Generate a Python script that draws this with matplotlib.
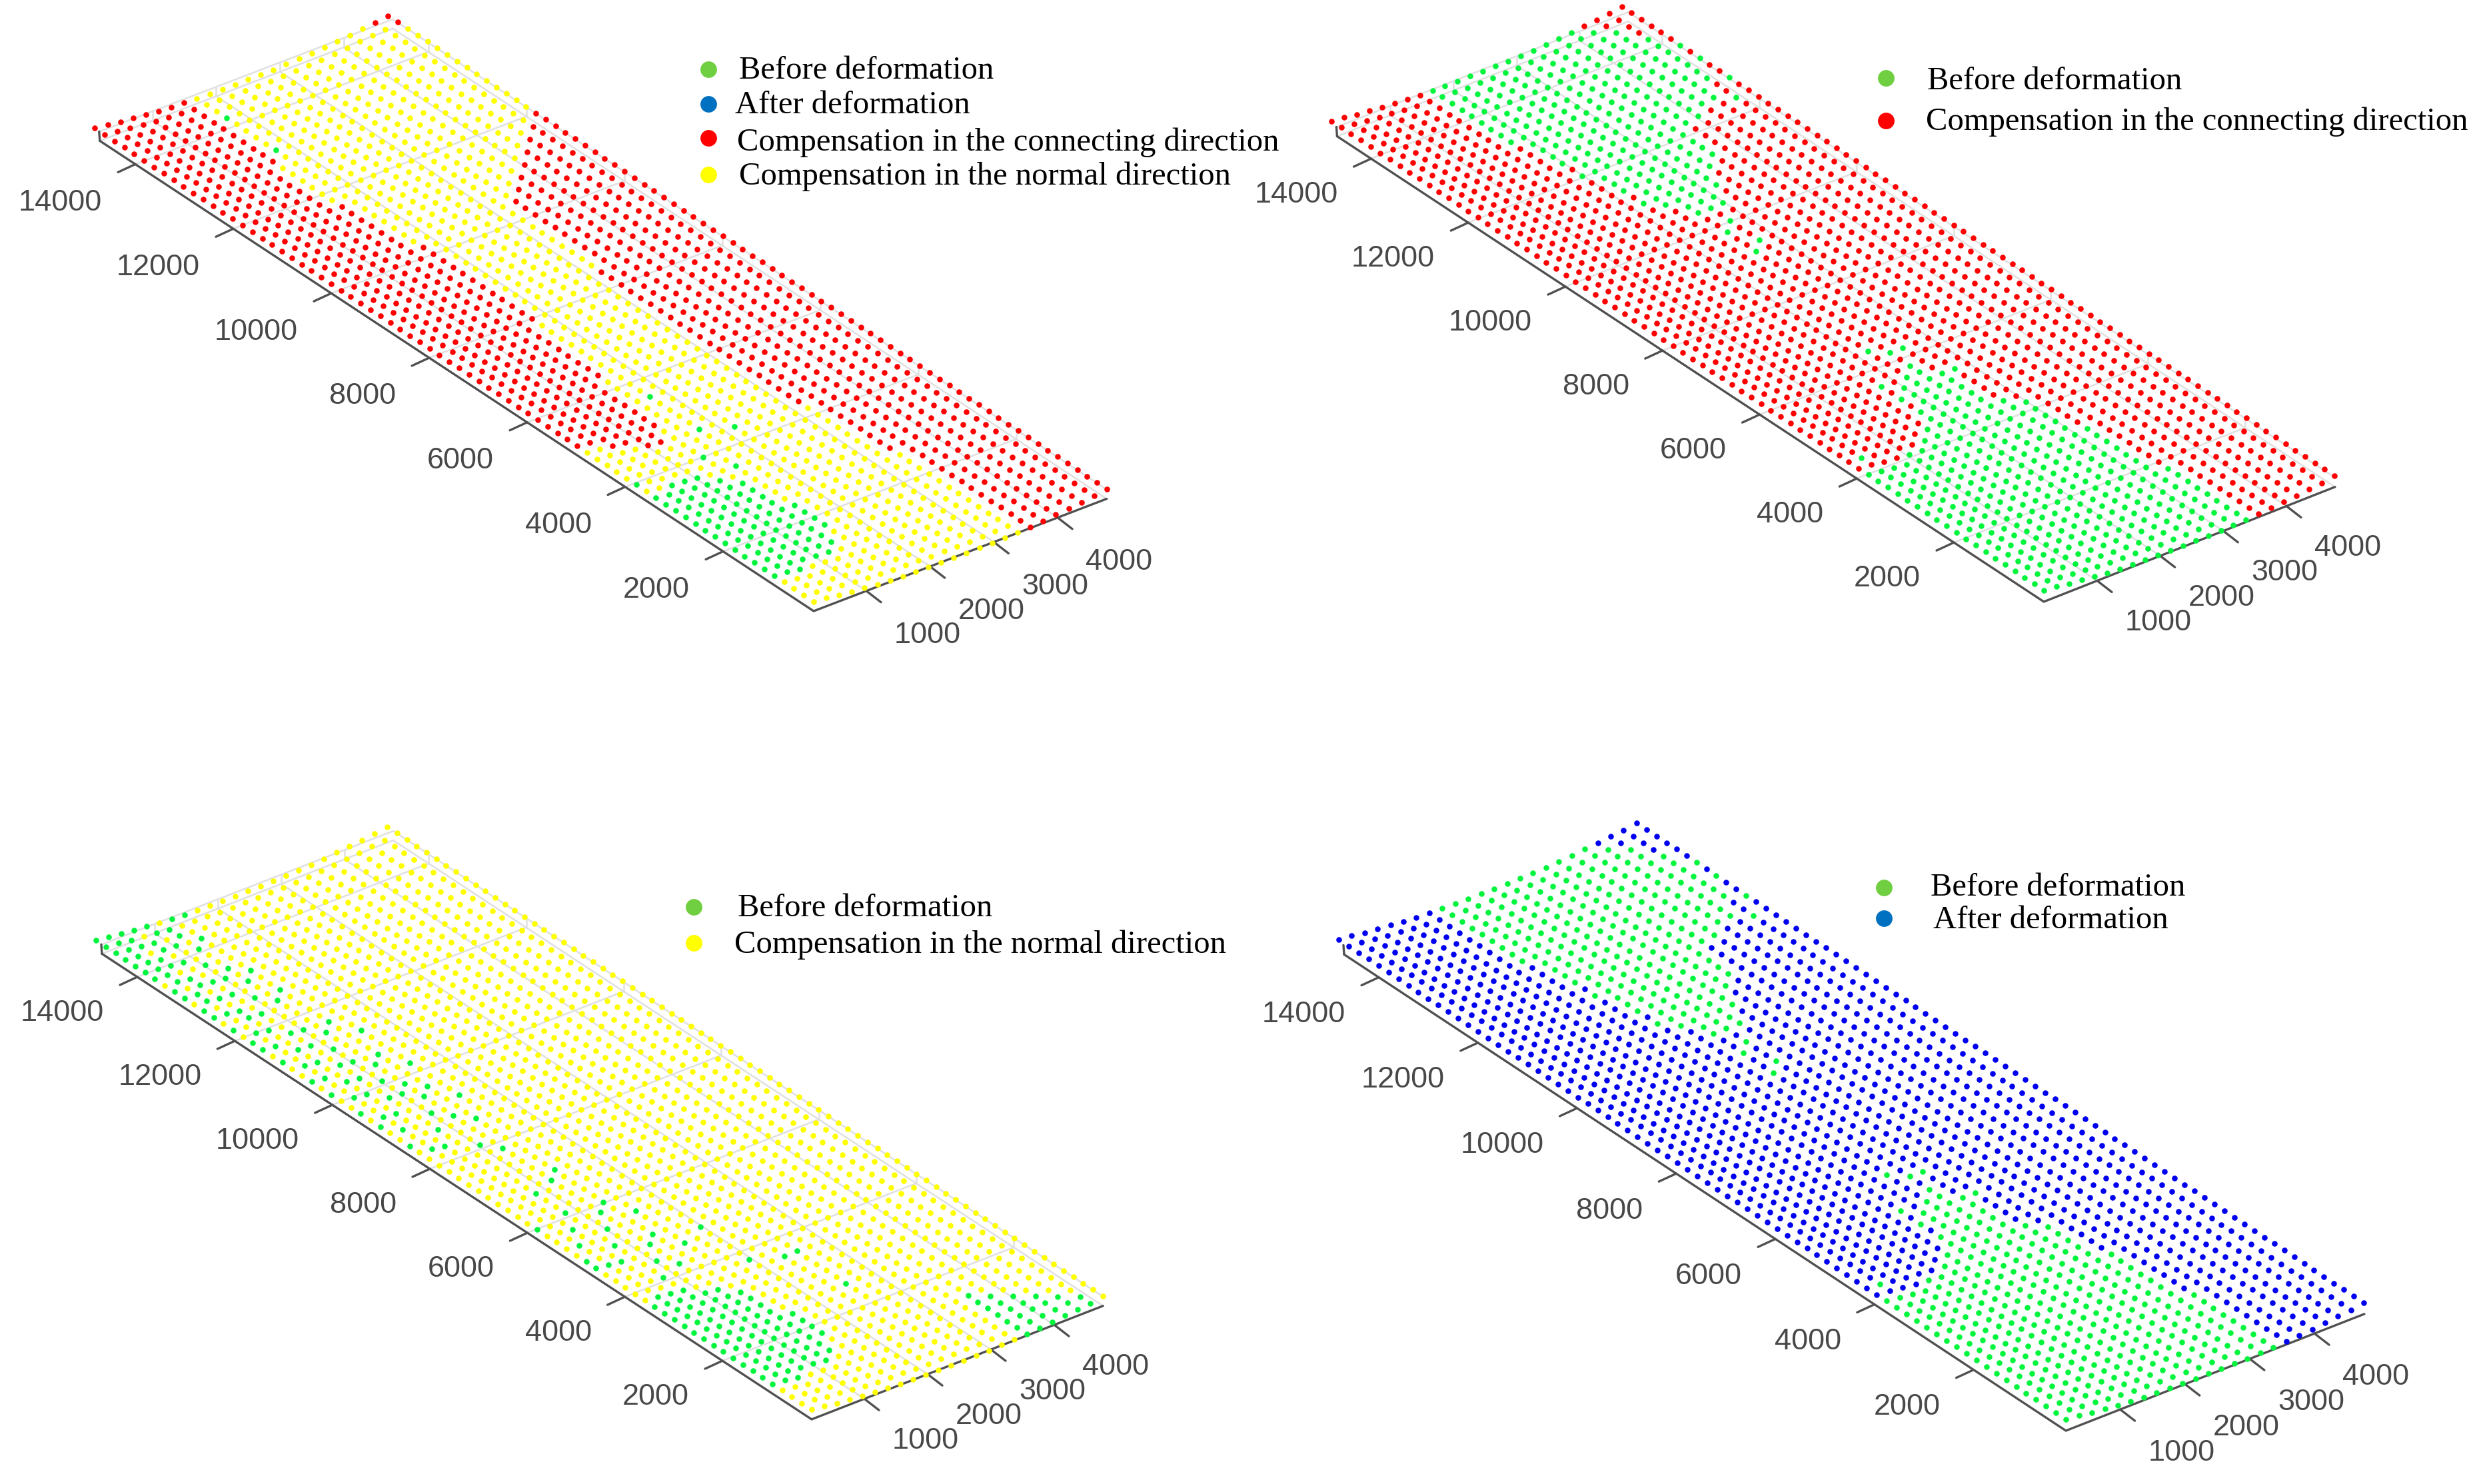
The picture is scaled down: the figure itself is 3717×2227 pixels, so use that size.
"""Four views of a point grid, coloured by compensation type."""

import numpy as np
import matplotlib
matplotlib.use("Agg")
import matplotlib.pyplot as plt

# grid nodes of the surface
grid_x = [200 + 200 * i for i in range(24)]
grid_y = [200 + 201 * j for j in range(74)]
# how far each grid column sags below the flat plane
column_sag = [0, 2, 5, 7, 9, 11, 12.5, 13.5, 14, 14.5, 15, 15, 15, 15, 15, 14, 13.5, 12.5, 11, 9, 7, 5, 3, 0]

x_ticks = [1000, 2000, 3000, 4000]
y_ticks = [2000, 4000, 6000, 8000, 10000, 12000, 14000]

# class membership: column -> inclusive runs of row numbers
a_yellow = {
    0: [(0, 3), (17, 17), (19, 23)], 1: [(0, 3), (17, 23)], 2: [(0, 3), (18, 22)], 3: [(0, 4), (18, 22)],
    4: [(0, 4), (18, 21)], 5: [(0, 4), (17, 21)], 6: [(0, 5), (16, 23)], 7: [(0, 7), (12, 30), (58, 63)],
    8: [(0, 38), (51, 73)], 9: [(0, 73)], 10: [(0, 73)], 11: [(0, 73)], 12: [(0, 73)], 13: [(0, 73)],
    14: [(0, 73)], 15: [(0, 20), (42, 73)], 16: [(0, 12), (52, 73)], 17: [(53, 73)], 18: [(54, 73)],
    19: [(55, 73)], 20: [(56, 73)], 21: [(57, 73)], 22: [(58, 72)], 23: [(59, 71)],
}
a_green = {
    0: [(4, 16), (18, 18)], 1: [(4, 16)], 2: [(4, 17)], 3: [(5, 17)], 4: [(5, 17)], 5: [(5, 16)],
    6: [(6, 15), (19, 19)], 7: [(8, 11), (17, 17)], 8: [(22, 22), (27, 27), (65, 65), (70, 70)], 10: [(21, 21)],
}
b_green = {
    0: [(0, 18)], 1: [(0, 18), (20, 20)], 2: [(0, 18)], 3: [(0, 18)], 4: [(0, 19)], 5: [(0, 19)],
    6: [(0, 20)], 7: [(0, 21)], 8: [(0, 23), (25, 25), (27, 27), (65, 73)], 9: [(0, 26), (59, 59), (61, 73)],
    10: [(0, 27), (31, 31), (54, 54), (56, 73)], 11: [(0, 28), (30, 30), (53, 73)],
    12: [(0, 26), (30, 30), (45, 45), (48, 48), (51, 73)], 13: [(0, 21), (26, 26), (46, 46), (49, 49), (51, 73)],
    14: [(0, 20), (51, 73)], 15: [(0, 15), (53, 73)], 16: [(0, 8), (55, 73)], 17: [(56, 73)],
    18: [(60, 73)], 19: [(60, 73)], 20: [(61, 72)], 21: [(61, 71)], 22: [(60, 60), (63, 69)],
    23: [(62, 62), (65, 65), (67, 67)],
}
c_green = {
    0: [(4, 16), (22, 23), (28, 28), (41, 41), (44, 44), (46, 46), (49, 49), (51, 51), (54, 54), (56, 57), (59, 59),
        (61, 62), (64, 65), (67, 73)],
    1: [(4, 17), (22, 22), (25, 25), (40, 40), (43, 43), (45, 45), (48, 48), (51, 51), (53, 53), (56, 56), (58, 58),
        (61, 61), (63, 64), (66, 73)],
    2: [(4, 17), (22, 22), (27, 27), (40, 40), (45, 45), (48, 48), (50, 50), (53, 53), (55, 55), (58, 58), (60, 61),
        (63, 63), (65, 66), (68, 69), (71, 73)],
    3: [(5, 17), (19, 19), (24, 24), (29, 29), (32, 32), (42, 42), (47, 47), (50, 50), (52, 52), (55, 55), (57, 57),
        (60, 60), (63, 63), (65, 65), (68, 68), (70, 71), (73, 73)],
    4: [(5, 16), (21, 21), (26, 26), (39, 39), (44, 44), (47, 47), (49, 49), (52, 52), (54, 54), (57, 57), (62, 62),
        (65, 65), (67, 67), (70, 70), (72, 73)],
    5: [(5, 16), (20, 20), (23, 23), (28, 28), (33, 33), (38, 38), (43, 43), (46, 46), (48, 48), (51, 51), (56, 56),
        (61, 61), (64, 64), (66, 66), (69, 69), (71, 72)],
    6: [(6, 15), (24, 24), (29, 29), (34, 34), (42, 42), (47, 47), (52, 52), (57, 57), (62, 62), (65, 65), (70, 70),
        (73, 73)],
    7: [(8, 11), (22, 22), (27, 27), (45, 45), (50, 50), (55, 55), (73, 73)],
    9: [(18, 18), (23, 23)], 11: [(17, 17)], 12: [(12, 12), (17, 17)],
    17: [(0, 6)], 18: [(0, 5)], 19: [(0, 4)], 20: [(0, 3)], 21: [(0, 2)], 22: [(0, 1)],
}

GREEN = "#00f53c"
RED = "#ff0000"
YELLOW = "#ffff00"
BLUE = "#0000f0"
KEY_GREEN = "#70cf40"
KEY_BLUE = "#0070c0"
KEY_RED = "#ff0000"
KEY_YELLOW = "#ffff00"
AXIS_GREY = "#505050"
GRID_GREY = "#e0e0e0"
TEXT_GREY = "#484848"

BEFORE = "Before deformation"
AFTER = "After deformation"
CONNECTING = "Compensation in the connecting direction"
NORMAL = "Compensation in the normal direction"

# per panel view: screen px per data unit along x and y, px of data (0, 0), axis limits, dot lift
panels = [
    dict(ex=(0.09567, -0.03667), ey=(-0.0735, -0.04842), origin=(1215.4, 930.7), xlim=(174, 4770), ylim=(150, 14725),
         lift=(1, -11), label_dy=6, base=RED, layers=[(YELLOW, a_yellow), (GREEN, a_green)], grid=True,
         key=[(KEY_GREEN, BEFORE, 1063, 104, 1109, 118), (KEY_BLUE, AFTER, 1063, 156, 1103, 170),
              (KEY_RED, CONNECTING, 1063, 207, 1106, 226), (KEY_YELLOW, NORMAL, 1063, 262, 1109, 277)]),
    dict(ex=(0.09467, -0.03733), ey=(-0.07288, -0.048), origin=(3063.1, 915.9), xlim=(155, 4770), ylim=(148, 14700),
         lift=(0, -13), label_dy=2, base=RED, layers=[(GREEN, b_green)], grid=True,
         key=[(KEY_GREEN, BEFORE, 2830, 117, 2892, 134), (KEY_RED, CONNECTING, 2830, 181, 2890, 195)]),
    dict(ex=(0.095, -0.037), ey=(-0.07317, -0.048), origin=(1214.4, 2144.3), xlim=(168, 4770), ylim=(169, 14725),
         lift=(-1, -12), label_dy=2, base=YELLOW, layers=[(GREEN, c_green)], grid=True,
         key=[(KEY_GREEN, BEFORE, 1041, 1361, 1107, 1375), (KEY_YELLOW, NORMAL, 1041, 1415, 1102, 1430)]),
    dict(ex=(0.09717, -0.038), ey=(-0.07438, -0.04908), origin=(3094.7, 2159.9), xlim=(161, 4770), ylim=(138, 14700),
         lift=(1, -12.5), label_dy=4, base=BLUE, layers=[(GREEN, b_green)], grid=False,
         key=[(KEY_GREEN, BEFORE, 2827, 1332, 2897, 1344), (KEY_BLUE, AFTER, 2827, 1378, 2901, 1393)]),
]


def project(panel, x, y):
    """Map data coordinates on the floor plane to image pixels."""
    x = np.asarray(x, dtype=float)
    y = np.asarray(y, dtype=float)
    px = panel["origin"][0] + x * panel["ex"][0] + y * panel["ey"][0]
    py = panel["origin"][1] + x * panel["ex"][1] + y * panel["ey"][1]
    return px, py


def expand(runs_by_column):
    """Turn column -> runs into a set of (column, row) nodes."""
    nodes = set()
    for col, runs in runs_by_column.items():
        for start, end in runs:
            for row in range(start, end + 1):
                nodes.add((col, row))
    return nodes


def draw_grid(ax, panel):
    x0, x1 = panel["xlim"]
    y0, y1 = panel["ylim"]
    wall = 14
    style = dict(color=GRID_GREY, lw=1.8, zorder=1, solid_capstyle="round")
    for xt in x_ticks:
        px, py = project(panel, [xt, xt], [y0, y1])
        ax.plot(px, py, **style)
        ax.plot([px[1], px[1]], [py[1], py[1] - wall], **style)
    for yt in y_ticks:
        px, py = project(panel, [x0, x1], [yt, yt])
        ax.plot(px, py, **style)
        ax.plot([px[1], px[1]], [py[1], py[1] - wall], **style)
    px, py = project(panel, [x0, x1, x1], [y1, y1, y0])
    ax.plot(px, py, **style)
    ax.plot(px, py - wall, **style)


def draw_axes(ax, panel):
    x0, x1 = panel["xlim"]
    y0, y1 = panel["ylim"]
    style = dict(color=AXIS_GREY, lw=2.4, zorder=2, solid_capstyle="round")
    px, py = project(panel, [x1, x0, x0], [y0, y0, y1])
    ax.plot(px, py, **style)
    ax.plot([px[2], px[2] - 1], [py[2], py[2] - 14], **style)

    for xt in x_ticks:
        px, py = project(panel, xt, y0)
        ax.plot([px, px + 22], [py, py + 17], **style)
        ax.text(px + 42, py + 61 + panel["label_dy"], str(xt), ha="left", va="center", fontsize=32.5,
                family="Liberation Sans", color=TEXT_GREY)
    for yt in y_ticks:
        px, py = project(panel, x0, yt)
        ax.plot([px, px - 26], [py, py + 12], **style)
        ax.text(px - 50, py + 52 + panel["label_dy"], str(yt), ha="right", va="center", fontsize=32.5,
                family="Liberation Sans", color=TEXT_GREY)


def draw_points(ax, panel):
    gx, gy = np.meshgrid(grid_x, grid_y, indexing="ij")
    px, py = project(panel, gx, gy)
    sag = np.array(column_sag)[:, None]
    px = px + panel["lift"][0]
    py = py + panel["lift"][1] + sag

    colours = np.full(gx.shape, panel["base"], dtype=object)
    for colour, runs in panel["layers"]:
        for col, row in expand(runs):
            colours[col, row] = colour
    for colour in {panel["base"]} | {c for c, _ in panel["layers"]}:
        mask = colours == colour
        ax.scatter(px[mask], py[mask], s=38, c=colour, linewidths=0, zorder=3)


def draw_key(ax, panel):
    for colour, label, mx, my, tx, ty in panel["key"]:
        ax.scatter([mx], [my], s=320, c=colour, linewidths=0, zorder=4)
        ax.text(tx, ty, label, ha="left", va="baseline", fontsize=35,
                family="Liberation Serif", color="black", zorder=4)


def main():
    fig = plt.figure(figsize=(37.17, 22.27), dpi=100)
    ax = fig.add_axes([0, 0, 1, 1])
    ax.set_xlim(0, 3717)
    ax.set_ylim(2227, 0)
    ax.axis("off")

    for panel in panels:
        if panel["grid"]:
            draw_grid(ax, panel)
        draw_axes(ax, panel)
        draw_points(ax, panel)
        draw_key(ax, panel)

    fig.savefig("out.png", dpi=100, facecolor="white")
    plt.close(fig)


if __name__ == "__main__":
    main()
